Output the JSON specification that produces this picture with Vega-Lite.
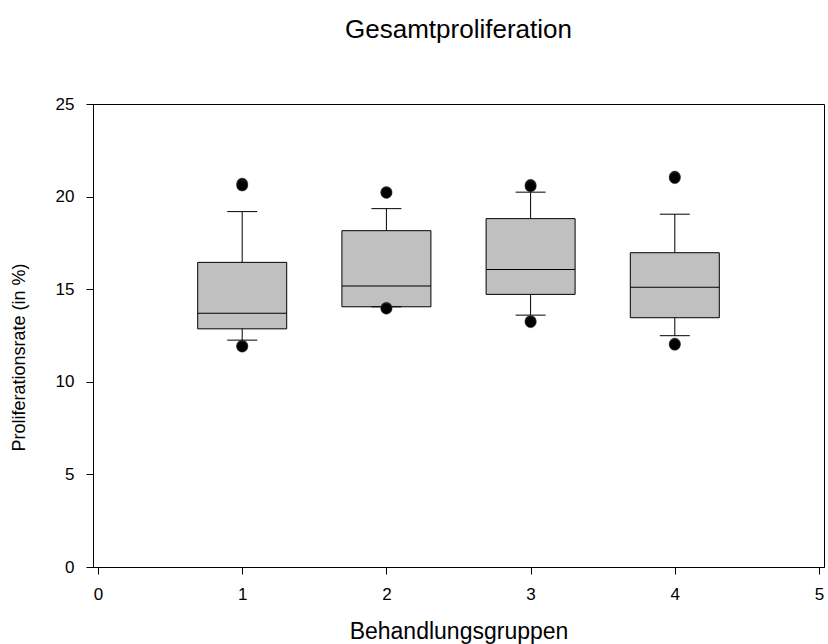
{
  "$schema": "https://vega.github.io/schema/vega-lite/v6.json",
  "autosize": "none",
  "width": 731,
  "height": 463,
  "padding": {"left": 93, "top": 104, "right": 4, "bottom": 77},
  "background": "white",
  "title": {"text": "Gesamtproliferation", "font": "Liberation Sans", "fontSize": 26, "fontWeight": "normal", "color": "black", "anchor": "middle", "baseline": "bottom", "offset": 26},
  "config": {
    "view": {"stroke": "black", "strokeWidth": 1},
    "axis": {"grid": false, "domainColor": "black", "tickColor": "black", "labelColor": "black", "titleColor": "black", "labelFont": "Liberation Sans", "titleFont": "Liberation Sans", "labelFontSize": 17, "titleFontWeight": "normal", "tickSize": 7}
  },
  "datasets": {
    "boxes": [
      {"group": 1, "lower": 12.25, "q1": 12.86, "median": 13.7, "q3": 16.45, "upper": 19.19},
      {"group": 2, "lower": 14.05, "q1": 14.05, "median": 15.17, "q3": 18.16, "upper": 19.35},
      {"group": 3, "lower": 13.6, "q1": 14.72, "median": 16.07, "q3": 18.81, "upper": 20.24},
      {"group": 4, "lower": 12.49, "q1": 13.46, "median": 15.1, "q3": 16.97, "upper": 19.05}
    ],
    "outliers": [
      {"group": 1, "value": 20.7}, {"group": 1, "value": 20.6},
      {"group": 1, "value": 11.95}, {"group": 1, "value": 11.9},
      {"group": 2, "value": 20.25}, {"group": 2, "value": 20.2},
      {"group": 2, "value": 14.0}, {"group": 2, "value": 13.95},
      {"group": 3, "value": 20.63}, {"group": 3, "value": 20.55},
      {"group": 3, "value": 13.28}, {"group": 3, "value": 13.22},
      {"group": 4, "value": 21.08}, {"group": 4, "value": 21.0},
      {"group": 4, "value": 12.06}, {"group": 4, "value": 12.0}
    ]
  },
  "layer": [
    {
      "data": {"name": "boxes"},
      "mark": {"type": "rule", "color": "black", "strokeWidth": 1},
      "encoding": {
        "x": {"field": "group", "type": "quantitative", "scale": {"domain": [0, 5], "nice": false, "zero": false}, "axis": {"values": [0, 1, 2, 3, 4, 5], "format": "d", "title": "Behandlungsgruppen", "titleFontSize": 23, "titlePadding": 18, "labelFontSize": 17, "labelPadding": 12}},
        "y": {"field": "lower", "type": "quantitative", "scale": {"domain": [0, 25], "nice": false}, "axis": {"values": [0, 5, 10, 15, 20, 25], "title": "Proliferationsrate (in %)", "titleFontSize": 18, "titlePadding": 27, "titleY": 253, "labelFontSize": 17, "labelPadding": 12}},
        "y2": {"field": "upper"}
      }
    },
    {
      "data": {"name": "boxes"},
      "mark": {"type": "bar", "size": 89, "fill": "#c0c0c0", "stroke": "black", "strokeWidth": 1},
      "encoding": {
        "x": {"field": "group", "type": "quantitative"},
        "y": {"field": "q1", "type": "quantitative"},
        "y2": {"field": "q3"}
      }
    },
    {
      "data": {"name": "boxes"},
      "mark": {"type": "tick", "orient": "horizontal", "size": 89, "thickness": 1, "color": "black", "opacity": 1},
      "encoding": {
        "x": {"field": "group", "type": "quantitative"},
        "y": {"field": "median", "type": "quantitative"}
      }
    },
    {
      "data": {"name": "boxes"},
      "mark": {"type": "tick", "orient": "horizontal", "size": 30, "thickness": 1, "color": "black", "opacity": 1},
      "encoding": {
        "x": {"field": "group", "type": "quantitative"},
        "y": {"field": "lower", "type": "quantitative"}
      }
    },
    {
      "data": {"name": "boxes"},
      "mark": {"type": "tick", "orient": "horizontal", "size": 30, "thickness": 1, "color": "black", "opacity": 1},
      "encoding": {
        "x": {"field": "group", "type": "quantitative"},
        "y": {"field": "upper", "type": "quantitative"}
      }
    },
    {
      "data": {"name": "outliers"},
      "mark": {"type": "point", "filled": true, "color": "black", "opacity": 1, "size": 125, "stroke": "#444", "strokeWidth": 0.5},
      "encoding": {
        "x": {"field": "group", "type": "quantitative"},
        "y": {"field": "value", "type": "quantitative"}
      }
    }
  ]
}
